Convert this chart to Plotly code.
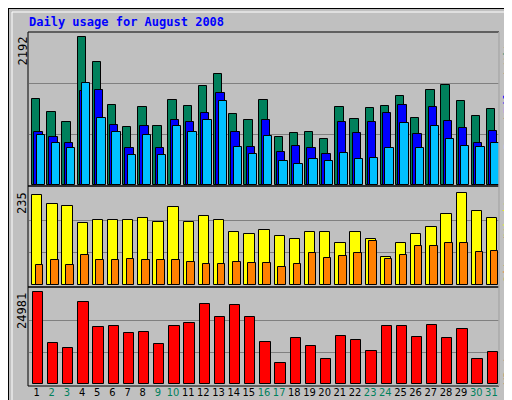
import plotly.graph_objects as go

days = list(range(1, 32))
weekend = [2, 3, 9, 10, 16, 17, 23, 24, 30, 31]

hits = [1274, 1076, 927, 2192, 1820, 1180, 853, 1150, 868, 1255, 1165, 1463, 1641, 1046, 957, 1255,
        704, 764, 779, 674, 1150, 972, 1136, 1165, 1314, 987, 1403, 1478, 1240, 1017, 1121]
files = [779, 704, 615, 1389, 1403, 883, 555, 868, 541, 957, 927, 1061, 1359, 779, 570, 957,
         496, 585, 541, 466, 927, 764, 927, 1061, 1180, 749, 1150, 942, 838, 615, 793]
pages = [734, 615, 555, 1508, 987, 779, 451, 734, 451, 868, 779, 957, 1240, 570, 466, 719,
         362, 317, 392, 362, 481, 392, 407, 541, 912, 541, 868, 674, 585, 570, 615]
visits = [232, 209, 202, 160, 166, 166, 166, 173, 163, 199, 163, 178, 168, 137, 132, 140,
          127, 119, 137, 137, 109, 137, 119, 73, 109, 132, 148, 181, 235, 191, 171]
sites = [52, 65, 52, 78, 65, 63, 68, 65, 65, 63, 60, 55, 55, 60, 57, 57,
         47, 55, 81, 70, 75, 81, 114, 68, 78, 99, 101, 109, 109, 86, 88]
kbytes = [24981, 11305, 9938, 22245, 15408, 15681, 13767, 14040, 11032, 15681, 16502, 21698, 18143,
          21425, 18143, 11579, 5835, 12399, 10485, 6929, 12946, 11852, 9117, 15681, 15681, 12673,
          15955, 12399, 14861, 6929, 8843]

GRAY = "#C0C0C0"
H = 400.0

def py(px):
    return 1 - px / H

def bar(y, color, off, w, axis):
    return go.Bar(x=days, y=y, offset=off, width=w, marker=dict(color=color, line=dict(color="black", width=1)),
                  xaxis="x", yaxis=axis, showlegend=False)

fig = go.Figure()
fig.add_trace(bar(hits, "#00805C", -0.3, 0.55, "y"))
fig.add_trace(bar(files, "#0000FF", -0.15, 0.55, "y"))
fig.add_trace(bar(pages, "#00C0FF", 0.0, 0.55, "y"))
fig.add_trace(bar(visits, "#FFFF00", -0.3, 0.68, "y2"))
fig.add_trace(bar(sites, "#FF8000", -0.05, 0.5, "y2"))
fig.add_trace(bar(kbytes, "#FF0000", -0.25, 0.68, "y3"))

ticktext = ["<span style='color:#00805C'>%d</span>" % d if d in weekend else str(d) for d in days]

def yax(dom, top, anchor="x"):
    return dict(domain=dom, range=[0, top], tickvals=[top / 3, 2 * top / 3], showticklabels=False,
                ticks="", showgrid=True, gridcolor="#808080", gridwidth=1, zeroline=False, anchor=anchor)

fig.update_layout(
    width=512, height=400, margin=dict(l=0, r=0, t=0, b=0),
    paper_bgcolor=GRAY, plot_bgcolor=GRAY, bargap=0,
    font=dict(family="DejaVu Sans Mono", size=12, color="black"),
    xaxis=dict(domain=[21 / 512, 491 / 512], range=[0.5, 31.5], tickvals=days, ticktext=ticktext,
               tickangle=0, showgrid=False, zeroline=False, anchor="y3", ticks="",
               tickfont=dict(size=11, family="DejaVu Sans Condensed")),
    yaxis=yax([py(177), py(25)], 2251),
    yaxis2=yax([py(277), py(180)], 249),
    yaxis3=yax([py(376), py(281)], 25880),
)

shapes = [
    dict(type="rect", xref="paper", yref="paper", x0=0, x1=1, y0=0, y1=1, line=dict(color="black", width=2)),
    dict(type="rect", xref="paper", yref="paper", x0=4 / 512, x1=506 / 512, y0=py(394), y1=py(4),
         line=dict(color="white", width=1)),
]
for top, bot in [(24, 178), (178, 279), (279, 378)]:
    shapes.append(dict(type="rect", xref="paper", yref="paper", x0=20 / 512, x1=491 / 512,
                       y0=py(bot), y1=py(top), line=dict(color="black", width=1)))
shapes.append(dict(type="line", xref="paper", yref="paper", x0=491 / 512, x1=491 / 512, y0=py(378), y1=py(24),
                   line=dict(color="white", width=1)))
fig.update_layout(shapes=shapes)

ann = [
    dict(text="<b>Daily usage for August 2008</b>", x=19 / 512, y=py(14), xanchor="left", yanchor="middle",
         font=dict(color="#0000FF", size=12)),
    dict(text="2192", x=14 / 512, y=py(27), xanchor="center", yanchor="top", textangle=-90),
    dict(text="235", x=14 / 512, y=py(182), xanchor="center", yanchor="top", textangle=-90),
    dict(text="24981", x=14 / 512, y=py(283), xanchor="center", yanchor="top", textangle=-90),
]
# right-hand legends, one word at a time (py = centre of word in pixels)
legend = [("Hits", "#00805C", 43), ("/", "#000000", 68), ("Files", "#0000FF", 88), ("/", "#000000", 113),
          ("Pages", "#00C0FF", 124), ("Visits", "#FFFF00", 207), ("/", "#000000", 232),
          ("Sites", "#FF8000", 257), ("KBytes", "#FF0000", 356)]
for word, col, yc in legend:
    ann.append(dict(text=word, x=501 / 512, y=py(yc), xanchor="center", yanchor="middle", textangle=-90,
                    font=dict(color=col, size=12)))
for a in ann:
    a.update(xref="paper", yref="paper", showarrow=False)
    a.setdefault("font", dict(size=12))
fig.update_layout(annotations=ann)

fig.write_html("out.html")
